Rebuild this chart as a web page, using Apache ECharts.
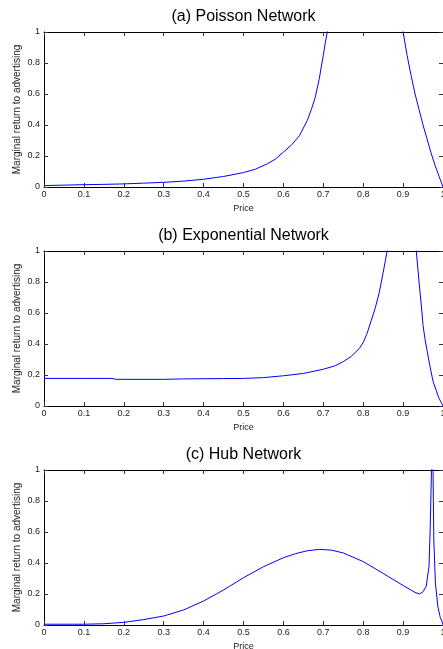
<!DOCTYPE html>
<html>
<head>
    <meta charset='utf-8'>
    <script src="https://cdn.jsdelivr.net/npm/echarts@6/dist/echarts.min.js"></script>
</head>
<body>
<style>
    html, body, #main {
        width: 100%;
        height: 100%;
        margin: 0;
        padding: 0;
        background: #fff;
    }
</style>
<div id="main"></div>
<script>
    var titles = ['(a) Poisson Network', '(b) Exponential Network', '(c) Hub Network'];

    // '-' marks where the curve leaves the top of the plot (pole)
    var poissonPrice = [0, 0.05, 0.1, 0.15, 0.2, 0.25, 0.3, 0.35, 0.4, 0.45, 0.5, 0.53, 0.56, 0.58, 0.6, 0.62, 0.64, 0.65, 0.66, 0.67, 0.68, 0.69, 0.7, 0.705, 0.71, 0.715,
        0.8, 0.895, 0.9, 0.91, 0.92, 0.93, 0.94, 0.95, 0.96, 0.97, 0.98, 0.99, 1.0];
    var poissonReturn = [0.009, 0.012, 0.015, 0.017, 0.02, 0.025, 0.03, 0.038, 0.05, 0.068, 0.093, 0.115, 0.15, 0.18, 0.225, 0.27, 0.33, 0.38, 0.43, 0.5, 0.58, 0.7, 0.85, 0.93, 1.0, 1.08,
        '-', 1.08, 1.0, 0.85, 0.72, 0.6, 0.5, 0.4, 0.31, 0.22, 0.14, 0.07, 0];

    var expPrice = [0, 0.1, 0.17, 0.18, 0.3, 0.35, 0.45, 0.5, 0.55, 0.6, 0.65, 0.7, 0.73, 0.75, 0.77, 0.79, 0.8, 0.81, 0.82, 0.83, 0.84, 0.85, 0.855, 0.86, 0.865,
        0.9, 0.928, 0.933, 0.94, 0.946, 0.95, 0.955, 0.96, 0.967, 0.975, 0.983, 0.99, 1.0];
    var expReturn = [0.178, 0.178, 0.178, 0.172, 0.172, 0.175, 0.177, 0.178, 0.183, 0.195, 0.21, 0.237, 0.26, 0.286, 0.32, 0.37, 0.41, 0.47, 0.55, 0.63, 0.73, 0.86, 0.93, 1.0, 1.08,
        '-', 1.08, 1.0, 0.8, 0.64, 0.52, 0.43, 0.36, 0.26, 0.16, 0.1, 0.05, 0];

    var hubPrice = [0, 0.1, 0.15, 0.2, 0.25, 0.3, 0.35, 0.4, 0.45, 0.5, 0.55, 0.6, 0.63, 0.66, 0.69, 0.72, 0.75, 0.8, 0.85, 0.9, 0.93, 0.941, 0.95, 0.958, 0.965, 0.968, 0.971, 0.972,
        0.973, 0.974, 0.975, 0.977, 0.981, 0.987, 0.993, 0.998, 1.0];
    var hubReturn = [0.005, 0.005, 0.008, 0.017, 0.035, 0.058, 0.097, 0.155, 0.226, 0.305, 0.376, 0.434, 0.46, 0.479, 0.488, 0.483, 0.465, 0.409, 0.333, 0.255, 0.21, 0.2, 0.215, 0.25, 0.38, 0.63, 0.98, 1.1,
        '-', 1.1, 1.0, 0.55, 0.27, 0.12, 0.05, 0.02, 0];

    var prices = [poissonPrice, expPrice, hubPrice];
    var returns = [poissonReturn, expReturn, hubReturn];

    var gridTops = [32, 251, 470];
    var titleTops = [9, 228, 447];
    var font = 'Liberation Sans, Arial, sans-serif';

    var chart = echarts.init(document.getElementById('main'));

    var option = {
        animation: false,
        textStyle: {fontFamily: font},
        title: [],
        grid: [],
        xAxis: [],
        yAxis: [],
        series: []
    };

    function tick() {
        return {show: true, inside: true, length: 4, lineStyle: {color: '#333'}};
    }

    function line() {
        return {show: true, onZero: false, lineStyle: {color: '#000', width: 1}};
    }

    for (var i = 0; i < 3; i++) {
        option.title.push({
            text: titles[i],
            left: 243.5,
            top: titleTops[i],
            textAlign: 'center',
            padding: 0,
            textStyle: {fontSize: 16, fontWeight: 'normal', color: '#000', fontFamily: font}
        });
        option.grid.push({
            left: 44, width: 399, top: gridTops[i], height: 155,
            containLabel: false, outerBoundsMode: 'none'
        });

        // bottom & top x axes
        option.xAxis.push({
            type: 'value', gridIndex: i, min: 0, max: 1, interval: 0.1,
            name: 'Price', nameLocation: 'middle', nameGap: 17,
            nameTextStyle: {fontSize: 9, color: '#222', fontFamily: font},
            axisLine: line(),
            axisTick: tick(),
            axisLabel: {fontSize: 9, color: '#222', margin: 3, fontFamily: font},
            splitLine: {show: false}
        });
        option.xAxis.push({
            type: 'value', gridIndex: i, position: 'top', min: 0, max: 1, interval: 0.1,
            axisLine: line(),
            axisTick: tick(),
            axisLabel: {show: false},
            splitLine: {show: false}
        });

        // left & right y axes
        option.yAxis.push({
            type: 'value', gridIndex: i, min: 0, max: 1, interval: 0.2,
            name: 'Marginal return to advertising', nameLocation: 'middle', nameGap: 22,
            nameMoveOverlap: false,
            nameTextStyle: {fontSize: 10, color: '#222', fontFamily: font},
            axisLine: line(),
            axisTick: tick(),
            axisLabel: {fontSize: 9, color: '#222', margin: 4, fontFamily: font},
            splitLine: {show: false}
        });
        option.yAxis.push({
            type: 'value', gridIndex: i, position: 'right', min: 0, max: 1, interval: 0.2,
            axisLine: line(),
            axisTick: tick(),
            axisLabel: {show: false},
            splitLine: {show: false}
        });

        var data = [];
        for (var j = 0; j < prices[i].length; j++) {
            data.push([prices[i][j], returns[i][j]]);
        }
        option.series.push({
            type: 'line',
            xAxisIndex: i * 2,
            yAxisIndex: i * 2,
            data: data,
            showSymbol: false,
            symbol: 'none',
            clip: true,
            lineStyle: {color: '#0000ff', width: 1}
        });
    }

    chart.setOption(option);
</script>
</body>
</html>
